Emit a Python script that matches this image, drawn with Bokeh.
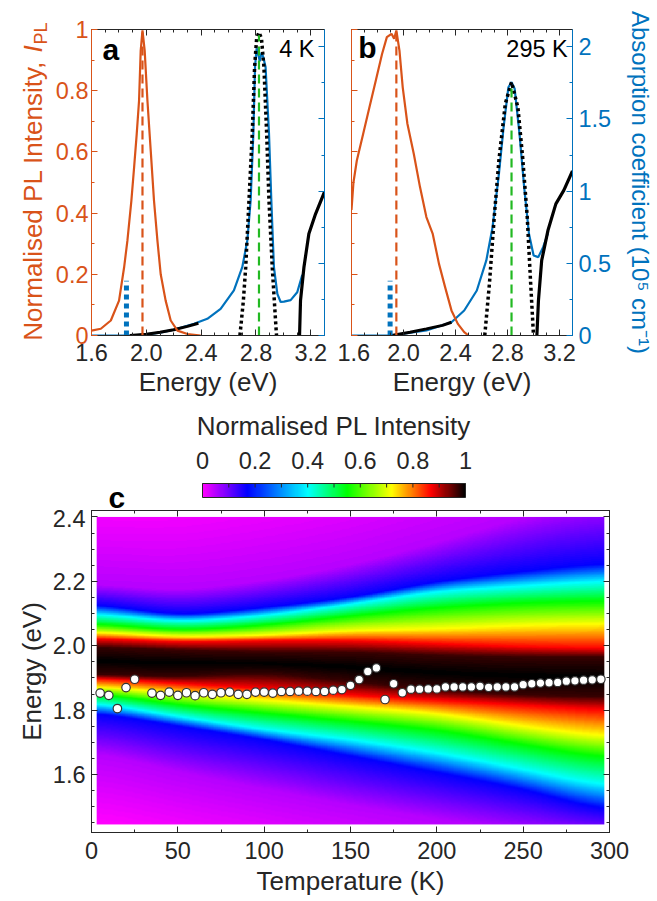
import numpy as np
from bokeh.plotting import figure
from bokeh.models import Range1d, LinearAxis, FixedTicker, Label, LinearColorMapper, PrintfTickFormatter
from bokeh.layouts import column, row
from bokeh.embed import file_html
from bokeh.resources import INLINE
from bokeh.core.properties import value

FONT = "Liberation Sans"
ORANGE = "#D95319"
BLUE = "#0072BD"
GREEN = "#22B922"
DARK = "#262626"
TICK_FS = 23.5
LABEL_FS = 26
MID = 0.3465   # em-box middle above the alphabetic baseline (Liberation Sans)

# ---------------- Panel a (4 K) ----------------
a_pl_energy = [1.600, 1.668, 1.741, 1.801, 1.838, 1.862, 1.891, 1.911, 1.930, 1.947, 1.959, 1.972,
               1.988, 2.008, 2.032, 2.056, 2.081, 2.105, 2.141, 2.178, 2.227, 2.300, 2.397]
a_pl_intensity = [0.016, 0.022, 0.049, 0.114, 0.223, 0.310, 0.441, 0.550, 0.659, 0.768, 0.931, 0.997,
                  0.931, 0.768, 0.605, 0.441, 0.310, 0.200, 0.114, 0.049, 0.016, 0.005, 0.000]
a_abs_energy = [1.600, 1.900, 2.000, 2.100, 2.200, 2.348, 2.445, 2.542, 2.639, 2.700, 2.737, 2.761,
                2.781, 2.793, 2.805, 2.818, 2.828, 2.840, 2.853, 2.870, 2.895, 2.912, 2.931, 2.956,
                2.980, 3.004, 3.053, 3.101, 3.138]
a_abs_coeff = [0.000, 0.000, 0.008, 0.020, 0.040, 0.081, 0.116, 0.185, 0.312, 0.473, 0.658, 0.935,
               1.400, 1.860, 1.990, 1.940, 1.900, 1.960, 1.930, 1.860, 1.400, 0.935, 0.473, 0.289,
               0.232, 0.235, 0.245, 0.300, 0.420]
a_fit_energy = [2.683, 2.708, 2.725, 2.749, 2.773, 2.790, 2.805, 2.822, 2.840, 2.858, 2.878, 2.895,
                2.919, 2.943, 2.950]
a_fit_coeff = [0.00, 0.24, 0.47, 0.935, 1.40, 1.86, 2.06, 2.10, 2.06, 1.86, 1.40, 0.935, 0.47, 0.10, 0.00]
a_tail_energy = [1.880, 2.000, 2.100, 2.200, 2.300, 2.380]
a_tail_coeff = [0.000, 0.008, 0.022, 0.040, 0.063, 0.085]
a_edge_energy = [3.118, 3.125, 3.150, 3.186, 3.235, 3.300]
a_edge_coeff = [0.000, 0.242, 0.473, 0.705, 0.843, 0.995]
a_pl_peak = 1.972          # orange dashed
a_exciton_peak = 2.822     # green dashed
a_exciton_top = 2.08
a_exc_energy = 1.855       # blue dotted bar
a_exc_height = 0.38

# ---------------- Panel b (295 K) ----------------
b_pl_energy = [1.600, 1.615, 1.641, 1.690, 1.738, 1.787, 1.835, 1.872, 1.908, 1.928, 1.945, 1.969,
               1.994, 2.030, 2.079, 2.127, 2.176, 2.225, 2.273, 2.320, 2.369, 2.418, 2.467, 2.500]
b_pl_intensity = [0.410, 0.500, 0.572, 0.659, 0.746, 0.833, 0.920, 0.975, 0.986, 0.970, 0.997, 0.931,
                  0.811, 0.692, 0.594, 0.485, 0.387, 0.332, 0.234, 0.158, 0.082, 0.038, 0.011, 0.000]
b_abs_energy = [1.600, 1.900, 2.000, 2.176, 2.369, 2.467, 2.564, 2.637, 2.685, 2.734, 2.770, 2.807,
                2.831, 2.855, 2.892, 2.928, 2.965, 3.001, 3.037, 3.074, 3.110]
b_abs_coeff = [0.000, 0.000, 0.012, 0.035, 0.092, 0.173, 0.312, 0.520, 0.750, 1.120, 1.443, 1.720,
               1.755, 1.710, 1.400, 1.030, 0.705, 0.554, 0.543, 0.612, 0.705]
b_fit_energy = [2.625, 2.661, 2.698, 2.734, 2.783, 2.831, 2.880, 2.916, 2.952, 2.977, 3.000]
b_fit_coeff = [0.000, 0.358, 0.822, 1.215, 1.605, 1.755, 1.580, 1.240, 0.820, 0.380, 0.000]
b_tail_energy = [1.908, 2.050, 2.176, 2.300, 2.369]
b_tail_coeff = [0.000, 0.023, 0.046, 0.070, 0.092]
b_edge_energy = [3.026, 3.038, 3.063, 3.111, 3.172, 3.233, 3.300]
b_edge_coeff = [0.000, 0.242, 0.520, 0.727, 0.912, 1.005, 1.140]
b_pl_peak = 1.945
b_exciton_peak = 2.831
b_exciton_top = 1.73
b_exc_energy = 1.897
b_exc_height = 0.38

# ---------------- Panel c (temperature map) ----------------
heat_temps = [5, 50, 100, 150, 200, 250, 295]
heat_peak = [1.952, 1.944, 1.945, 1.933, 1.915, 1.905, 1.900]
heat_levels = [0.0, 0.05, 0.17, 0.40, 0.55, 0.72, 0.87, 0.97]
heat_upper = [
    [2.450, 2.450, 2.500, 2.550, 2.650, 2.700, 2.750],
    [2.190, 2.170, 2.200, 2.250, 2.320, 2.400, 2.450],
    [2.128, 2.092, 2.118, 2.149, 2.200, 2.231, 2.256],
    [2.098, 2.072, 2.092, 2.128, 2.169, 2.185, 2.200],
    [2.067, 2.046, 2.062, 2.092, 2.118, 2.133, 2.138],
    [2.041, 2.026, 2.031, 2.046, 2.051, 2.062, 2.067],
    [2.021, 2.010, 2.015, 2.015, 2.005, 1.995, 1.990],
    [1.995, 1.985, 1.979, 1.979, 1.969, 1.964, 1.964],
]
heat_lower = [
    [1.450, 1.400, 1.350, 1.300, 1.250, 1.200, 1.150],
    [1.667, 1.605, 1.554, 1.502, 1.460, 1.420, 1.400],
    [1.790, 1.749, 1.708, 1.656, 1.605, 1.554, 1.487],
    [1.821, 1.779, 1.738, 1.708, 1.667, 1.615, 1.564],
    [1.851, 1.815, 1.790, 1.764, 1.738, 1.692, 1.651],
    [1.872, 1.851, 1.831, 1.810, 1.790, 1.749, 1.718],
    [1.898, 1.882, 1.867, 1.846, 1.831, 1.815, 1.800],
    [1.910, 1.902, 1.916, 1.887, 1.862, 1.846, 1.841],
]
dot_temps = [5, 10, 15, 20, 25, 35, 40, 45, 50, 55, 60, 65, 70, 75, 80, 85, 90, 95, 100, 105, 110,
             115, 120, 125, 130, 135, 140, 145, 150, 155, 160, 165, 170, 175, 180, 185, 190, 195,
             200, 205, 210, 215, 220, 225, 230, 235, 240, 245, 250, 255, 260, 265, 270, 275, 280,
             285, 290, 295]
dot_energy = [1.853, 1.846, 1.805, 1.870, 1.896, 1.853, 1.846, 1.856, 1.846, 1.854, 1.845, 1.854,
              1.849, 1.854, 1.856, 1.849, 1.849, 1.856, 1.856, 1.853, 1.858, 1.858, 1.859, 1.859,
              1.858, 1.858, 1.862, 1.864, 1.877, 1.895, 1.920, 1.931, 1.833, 1.882, 1.854, 1.865,
              1.865, 1.866, 1.866, 1.872, 1.872, 1.872, 1.872, 1.874, 1.871, 1.872, 1.872, 1.872,
              1.879, 1.882, 1.884, 1.885, 1.886, 1.890, 1.891, 1.893, 1.894, 1.896]

# colour map stops (position, rgb)
cmap_pos = [0.0, 0.17, 0.40, 0.55, 0.72, 0.87, 1.0]
cmap_rgb = [(255, 0, 255), (0, 0, 255), (0, 255, 255), (0, 255, 0), (255, 255, 0), (255, 0, 0), (0, 0, 0)]

cb_ticks = [0, 0.2, 0.4, 0.6, 0.8, 1]
cb_minor = [0.1, 0.3, 0.5, 0.7, 0.9]
cb_labels = ["0", "0.2", "0.4", "0.6", "0.8", "1"]

# ---------------- helpers ----------------
ARIAL = {' ': 278, '(': 333, ')': 333, ',': 278, '-': 333, '.': 278,
         'A': 667, 'E': 667, 'I': 278, 'K': 667, 'L': 556, 'N': 722, 'P': 667, 'T': 611, 'V': 667,
         'a': 556, 'b': 556, 'c': 500, 'd': 556, 'e': 556, 'f': 278, 'g': 556, 'i': 222, 'l': 222,
         'm': 833, 'n': 556, 'o': 556, 'p': 556, 'r': 333, 's': 500, 't': 278, 'u': 556, 'y': 500}


def tw(s, size):
    return sum(ARIAL.get(ch, 556) for ch in s) / 1000.0 * size


def px(v):
    return "%gpx" % v


palette = []
for v in np.linspace(0, 1, 256):
    r = np.interp(v, cmap_pos, [c[0] for c in cmap_rgb])
    g = np.interp(v, cmap_pos, [c[1] for c in cmap_rgb])
    b = np.interp(v, cmap_pos, [c[2] for c in cmap_rgb])
    palette.append("#%02x%02x%02x" % (int(round(r)), int(round(g)), int(round(b))))
mapper = LinearColorMapper(palette=palette, low=0, high=1)


def style_axis(ax, color, labels=True, standoff=4):
    ax.axis_line_color = color
    ax.axis_line_width = 1
    ax.major_tick_line_color = color
    ax.minor_tick_line_color = color
    ax.major_tick_in = 6
    ax.major_tick_out = 0
    ax.minor_tick_in = 3
    ax.minor_tick_out = 0
    ax.major_label_text_font = FONT
    if labels:
        ax.major_label_text_color = color
        ax.major_label_text_font_size = px(TICK_FS)
        ax.major_label_standoff = standoff
    else:
        ax.major_label_text_color = None
        ax.major_label_text_font_size = "0px"
        ax.major_label_standoff = 0
    ax.axis_label_text_font = FONT
    ax.axis_label_text_font_style = "normal"
    ax.axis_label_text_font_size = px(LABEL_FS)
    ax.axis_label_text_color = DARK


def add_label(p, x, y, text, size, color=DARK, style="normal", align="left", angle=0.0):
    # anchored on the em-box middle (baseline="middle" renders reliably in the svg output)
    p.add_layout(Label(x=x, y=y, text=text, text_font=FONT, text_font_size=px(size),
                       text_color=color, text_font_style=style, text_align=align,
                       text_baseline="middle", angle=angle))


def pixel_fig(w, h):
    # a bare canvas whose data units are pixels (y measured upwards from the bottom)
    f = figure(width=w, height=h, x_range=Range1d(0, w), y_range=Range1d(0, h),
               output_backend="svg", toolbar_location=None, min_border=0,
               x_axis_location=None, y_axis_location=None)
    f.grid.visible = False
    f.outline_line_color = None
    return f


e_ticks = FixedTicker(ticks=[1.6, 2.0, 2.4, 2.8, 3.2],
                      minor_ticks=[round(1.6 + 0.1 * i, 2) for i in range(18)])
e_over = {1.6: "1.6", 2.0: "2.0", 2.4: "2.4", 2.8: "2.8", 3.2: "3.2"}
pl_ticks_major = [0, 0.2, 0.4, 0.6, 0.8, 1]
pl_over = {0: "0", 0.2: "0.2", 0.4: "0.4", 0.6: "0.6", 0.8: "0.8", 1: "1"}
abs_major = [0, 0.5, 1, 1.5, 2]
abs_over = {0: "0", 0.5: "0.5", 1: "1", 1.5: "1.5", 2: "2"}

TOP_H = 400


def spectrum_panel(width, left, right, pl_labels, abs_labels, d):
    p = figure(width=width, height=TOP_H, x_range=Range1d(1.6, 3.3), y_range=Range1d(0, 1),
               output_backend="svg", toolbar_location=None,
               min_border_left=left, min_border_right=right, min_border_top=29,
               min_border_bottom=TOP_H - 29 - 306)
    p.extra_y_ranges = {"abs": Range1d(0, 2.12)}
    p.grid.visible = False
    p.outline_line_color = None

    bx = p.xaxis[0]
    bx.ticker = e_ticks
    bx.major_label_overrides = e_over
    style_axis(bx, DARK, True, standoff=8)
    bx.axis_label = "Energy (eV)"
    bx.axis_label_standoff = 3

    ly = p.yaxis[0]
    ly.ticker = FixedTicker(ticks=pl_ticks_major, minor_ticks=[0.1, 0.3, 0.5, 0.7, 0.9])
    ly.major_label_overrides = pl_over
    style_axis(ly, ORANGE, pl_labels, standoff=3)

    ry = LinearAxis(y_range_name="abs",
                    ticker=FixedTicker(ticks=abs_major, minor_ticks=[0.25, 0.75, 1.25, 1.75]))
    ry.major_label_overrides = abs_over
    style_axis(ry, BLUE, abs_labels, standoff=6)
    if abs_labels:
        ry.axis_label = "Absorption coefficient (10\u2075 cm\u207b\u00b9)"
        ry.axis_label_text_color = BLUE
        ry.axis_label_text_font_size = "24px"
        ry.axis_label_standoff = 13
    p.add_layout(ry, "right")

    tx = LinearAxis(ticker=e_ticks)
    style_axis(tx, DARK, False)
    p.add_layout(tx, "above")

    # data
    p.line(d["abs_e"], d["abs_v"], y_range_name="abs", color=BLUE, line_width=2.2)
    p.line(d["tail_e"], d["tail_v"], y_range_name="abs", color="black", line_width=3)
    p.line(d["edge_e"], d["edge_v"], y_range_name="abs", color="black", line_width=3.2)
    p.line(d["fit_e"], d["fit_v"], y_range_name="abs", color="black", line_width=3.5,
           line_dash="3 3")
    p.line(d["pl_e"], d["pl_i"], color=ORANGE, line_width=2.2)
    p.segment(x0=[d["pl_peak"]], y0=[0], x1=[d["pl_peak"]], y1=[1.0], color=ORANGE,
              line_width=2.2, line_dash="9 5")
    p.segment(x0=[d["exc_peak"]], y0=[0], x1=[d["exc_peak"]], y1=[d["exc_top"]],
              y_range_name="abs", color=GREEN, line_width=2.2, line_dash="9 5")
    p.segment(x0=[d["bar_e"]], y0=[0], x1=[d["bar_e"]], y1=[d["bar_h"]], y_range_name="abs",
              color=BLUE, line_width=5, line_dash="5 4")
    return p


A_X0 = 91      # window px of panel a frame left
B_X0 = 351
Y_BOT = 335
FR_W = 233
FR_H = 306


def a_xy(wx, wy):
    return 1.6 + (wx - A_X0) * 1.7 / FR_W, (Y_BOT - wy) / FR_H


def b_xy(wx, wy):
    return 1.6 + (wx - B_X0) * 1.7 / FR_W, (Y_BOT - wy) / FR_H


LAB_W = 50
lab_a = pixel_fig(LAB_W, TOP_H)
pa = spectrum_panel(287, 41, 13, True, False, dict(
    abs_e=a_abs_energy, abs_v=a_abs_coeff, tail_e=a_tail_energy, tail_v=a_tail_coeff,
    edge_e=a_edge_energy, edge_v=a_edge_coeff, fit_e=a_fit_energy, fit_v=a_fit_coeff,
    pl_e=a_pl_energy, pl_i=a_pl_intensity, pl_peak=a_pl_peak, exc_peak=a_exciton_peak,
    exc_top=a_exciton_top, bar_e=a_exc_energy, bar_h=a_exc_height))
pb = spectrum_panel(320, 14, 73, False, True, dict(
    abs_e=b_abs_energy, abs_v=b_abs_coeff, tail_e=b_tail_energy, tail_v=b_tail_coeff,
    edge_e=b_edge_energy, edge_v=b_edge_coeff, fit_e=b_fit_energy, fit_v=b_fit_coeff,
    pl_e=b_pl_energy, pl_i=b_pl_intensity, pl_peak=b_pl_peak, exc_peak=b_exciton_peak,
    exc_top=b_exciton_top, bar_e=b_exc_energy, bar_h=b_exc_height))

# panel letters / temperatures (window px of the text baseline, shifted to the em middle)
x, y = a_xy(102, 59 - MID * 30)
add_label(pa, x, y, "a", 30, "black", "bold")
x, y = a_xy(314, 57 - MID * TICK_FS)
add_label(pa, x, y, "4 K", TICK_FS, "black", align="right")
x, y = b_xy(358, 57 - MID * 30)
add_label(pb, x, y, "b", 30, "black", "bold")
x, y = b_xy(579, 57 - MID * TICK_FS)
add_label(pb, x, y, "295 K", TICK_FS, "black", align="right")

# left axis label of panel a (reads upward), with italic I and subscript PL
main = "Normalised PL Intensity, "
sub_fs = 18
w_main = tw(main, LABEL_FS)
w_i = tw("I", LABEL_FS)
w_pl = tw("PL", sub_fs)
total = w_main + w_i + w_pl
wy0 = 182 + total / 2            # window y where the text starts (bottom)
cx_main = 32                     # window x of the glyph centre line
add_label(lab_a, cx_main, TOP_H - (wy0 - w_main / 2), main, LABEL_FS, ORANGE,
          align="center", angle=np.pi / 2)
add_label(lab_a, cx_main, TOP_H - (wy0 - w_main - w_i / 2), "I", LABEL_FS, ORANGE,
          style="italic", align="center", angle=np.pi / 2)
add_label(lab_a, cx_main + 8, TOP_H - (wy0 - w_main - w_i - 1 - w_pl / 2), "PL", sub_fs, ORANGE,
          align="center", angle=np.pi / 2)

# ---------------- colour bar strip (one full-width canvas) ----------------
CB_H = 109
CB_X0, CB_X1 = 202, 465      # window px of the bar ends
CB_YB, CB_YT = 497, 483      # window px of bar bottom / top
cb_w = CB_X1 - CB_X0
cb_h = CB_YB - CB_YT


def cbx(wx):
    return (wx - CB_X0) / cb_w


def cby(wy):
    return (CB_YB - wy) / cb_h


pcb = figure(width=657, height=CB_H, x_range=Range1d(cbx(0), cbx(657)),
             y_range=Range1d(cby(TOP_H + CB_H), cby(TOP_H)),
             output_backend="svg", toolbar_location=None, min_border=0,
             x_axis_location=None, y_axis_location=None)
pcb.grid.visible = False
pcb.outline_line_color = None
pcb.image(image=[np.linspace(0, 1, 256).reshape(1, 256)], x=cb_ticks[0], y=0,
          dw=cb_ticks[-1] - cb_ticks[0], dh=1, color_mapper=mapper)
pcb.quad(left=[cb_ticks[0]], right=[cb_ticks[-1]], bottom=[0], top=[1], fill_color=None,
         line_color=DARK, line_width=1)
all_ticks = cb_ticks + cb_minor
pcb.segment(x0=all_ticks, y0=[1] * len(all_ticks), x1=all_ticks,
            y1=[1 - 4.0 / cb_h] * len(all_ticks), line_color=DARK, line_width=1)
pcb.text(x=cb_ticks, y=[cby(468 - MID * TICK_FS)] * len(cb_ticks), text=cb_labels,
         text_align="center", text_baseline="middle", text_font=value(FONT),
         text_font_size=px(TICK_FS), text_color=DARK)
pcb.text(x=[0.5], y=[cby(435 - MID * LABEL_FS)], text=["Normalised PL Intensity"],
         text_align="center", text_baseline="middle", text_font=value(FONT),
         text_font_size=px(LABEL_FS), text_color=DARK)
pcb.text(x=[cbx(108)], y=[cby(507 - MID * 30)], text=["c"], text_align="left",
         text_baseline="middle", text_font=value(FONT), text_font_size="30px",
         text_font_style="bold", text_color="black")

# ---------------- panel c ----------------
T_grid = np.arange(3.5, 297.0, 1.0)
E_grid = np.linspace(1.445, 2.40, 480)


def smooth(arr, sigma=14):
    k = np.exp(-0.5 * (np.arange(-3 * sigma, 3 * sigma + 1) / sigma) ** 2)
    k /= k.sum()
    pad = np.pad(arr, len(k) // 2, mode="edge")
    return np.convolve(pad, k, mode="valid")


lv = list(heat_levels)
lo_c = [smooth(np.interp(T_grid, heat_temps, heat_lower[k])) for k in range(len(lv))]
up_c = [smooth(np.interp(T_grid, heat_temps, heat_upper[k])) for k in range(len(lv))]
pk_c = smooth(np.interp(T_grid, heat_temps, heat_peak))
Z = np.zeros((len(E_grid), len(T_grid)))
for j in range(len(T_grid)):
    xs = [c[j] for c in lo_c] + [pk_c[j]] + [c[j] for c in up_c][::-1]
    vs = lv + [1.0] + lv[::-1]
    Z[:, j] = np.interp(E_grid, xs, vs)

C_H = 900 - TOP_H - CB_H
C_TOP = 510 - TOP_H - CB_H
pc = figure(width=657, height=C_H, x_range=Range1d(0, 300), y_range=Range1d(1.42, 2.42),
            output_backend="svg", toolbar_location=None,
            min_border_left=91, min_border_right=48, min_border_top=C_TOP,
            min_border_bottom=C_H - C_TOP - 322)
pc.grid.visible = False
pc.outline_line_color = DARK
pc.image(image=[Z], x=3, y=1.445, dw=294, dh=0.955, color_mapper=mapper)
pc.scatter(dot_temps, dot_energy, size=8.5, fill_color="white", line_color="#333333",
           line_width=1.2)

t_ticker = FixedTicker(ticks=[0, 50, 100, 150, 200, 250, 300],
                       minor_ticks=[25 * i for i in range(13)])
en_ticker = FixedTicker(ticks=[1.6, 1.8, 2.0, 2.2, 2.4],
                        minor_ticks=[round(1.45 + 0.05 * i, 2) for i in range(20)])
cx = pc.xaxis[0]
cx.ticker = t_ticker
style_axis(cx, DARK, True, standoff=9)
cx.axis_label = "Temperature (K)"
cx.axis_label_standoff = 4
cy = pc.yaxis[0]
cy.ticker = en_ticker
cy.formatter = PrintfTickFormatter(format="%.1f")
style_axis(cy, DARK, True, standoff=6)
cy.axis_label = "Energy (eV)"
cy.axis_label_standoff = 3
ctop = LinearAxis(ticker=t_ticker)
style_axis(ctop, DARK, False)
pc.add_layout(ctop, "above")
cright = LinearAxis(ticker=en_ticker)
style_axis(cright, DARK, False)
pc.add_layout(cright, "right")

# the bare label canvas is wrapped in its own column so that the layout does not
# line its (border-less) frame up with the neighbouring plot frames
layout = column(row(column(lab_a), pa, pb), row(pcb), row(pc))
open("out.html", "w").write(file_html(layout, INLINE))
